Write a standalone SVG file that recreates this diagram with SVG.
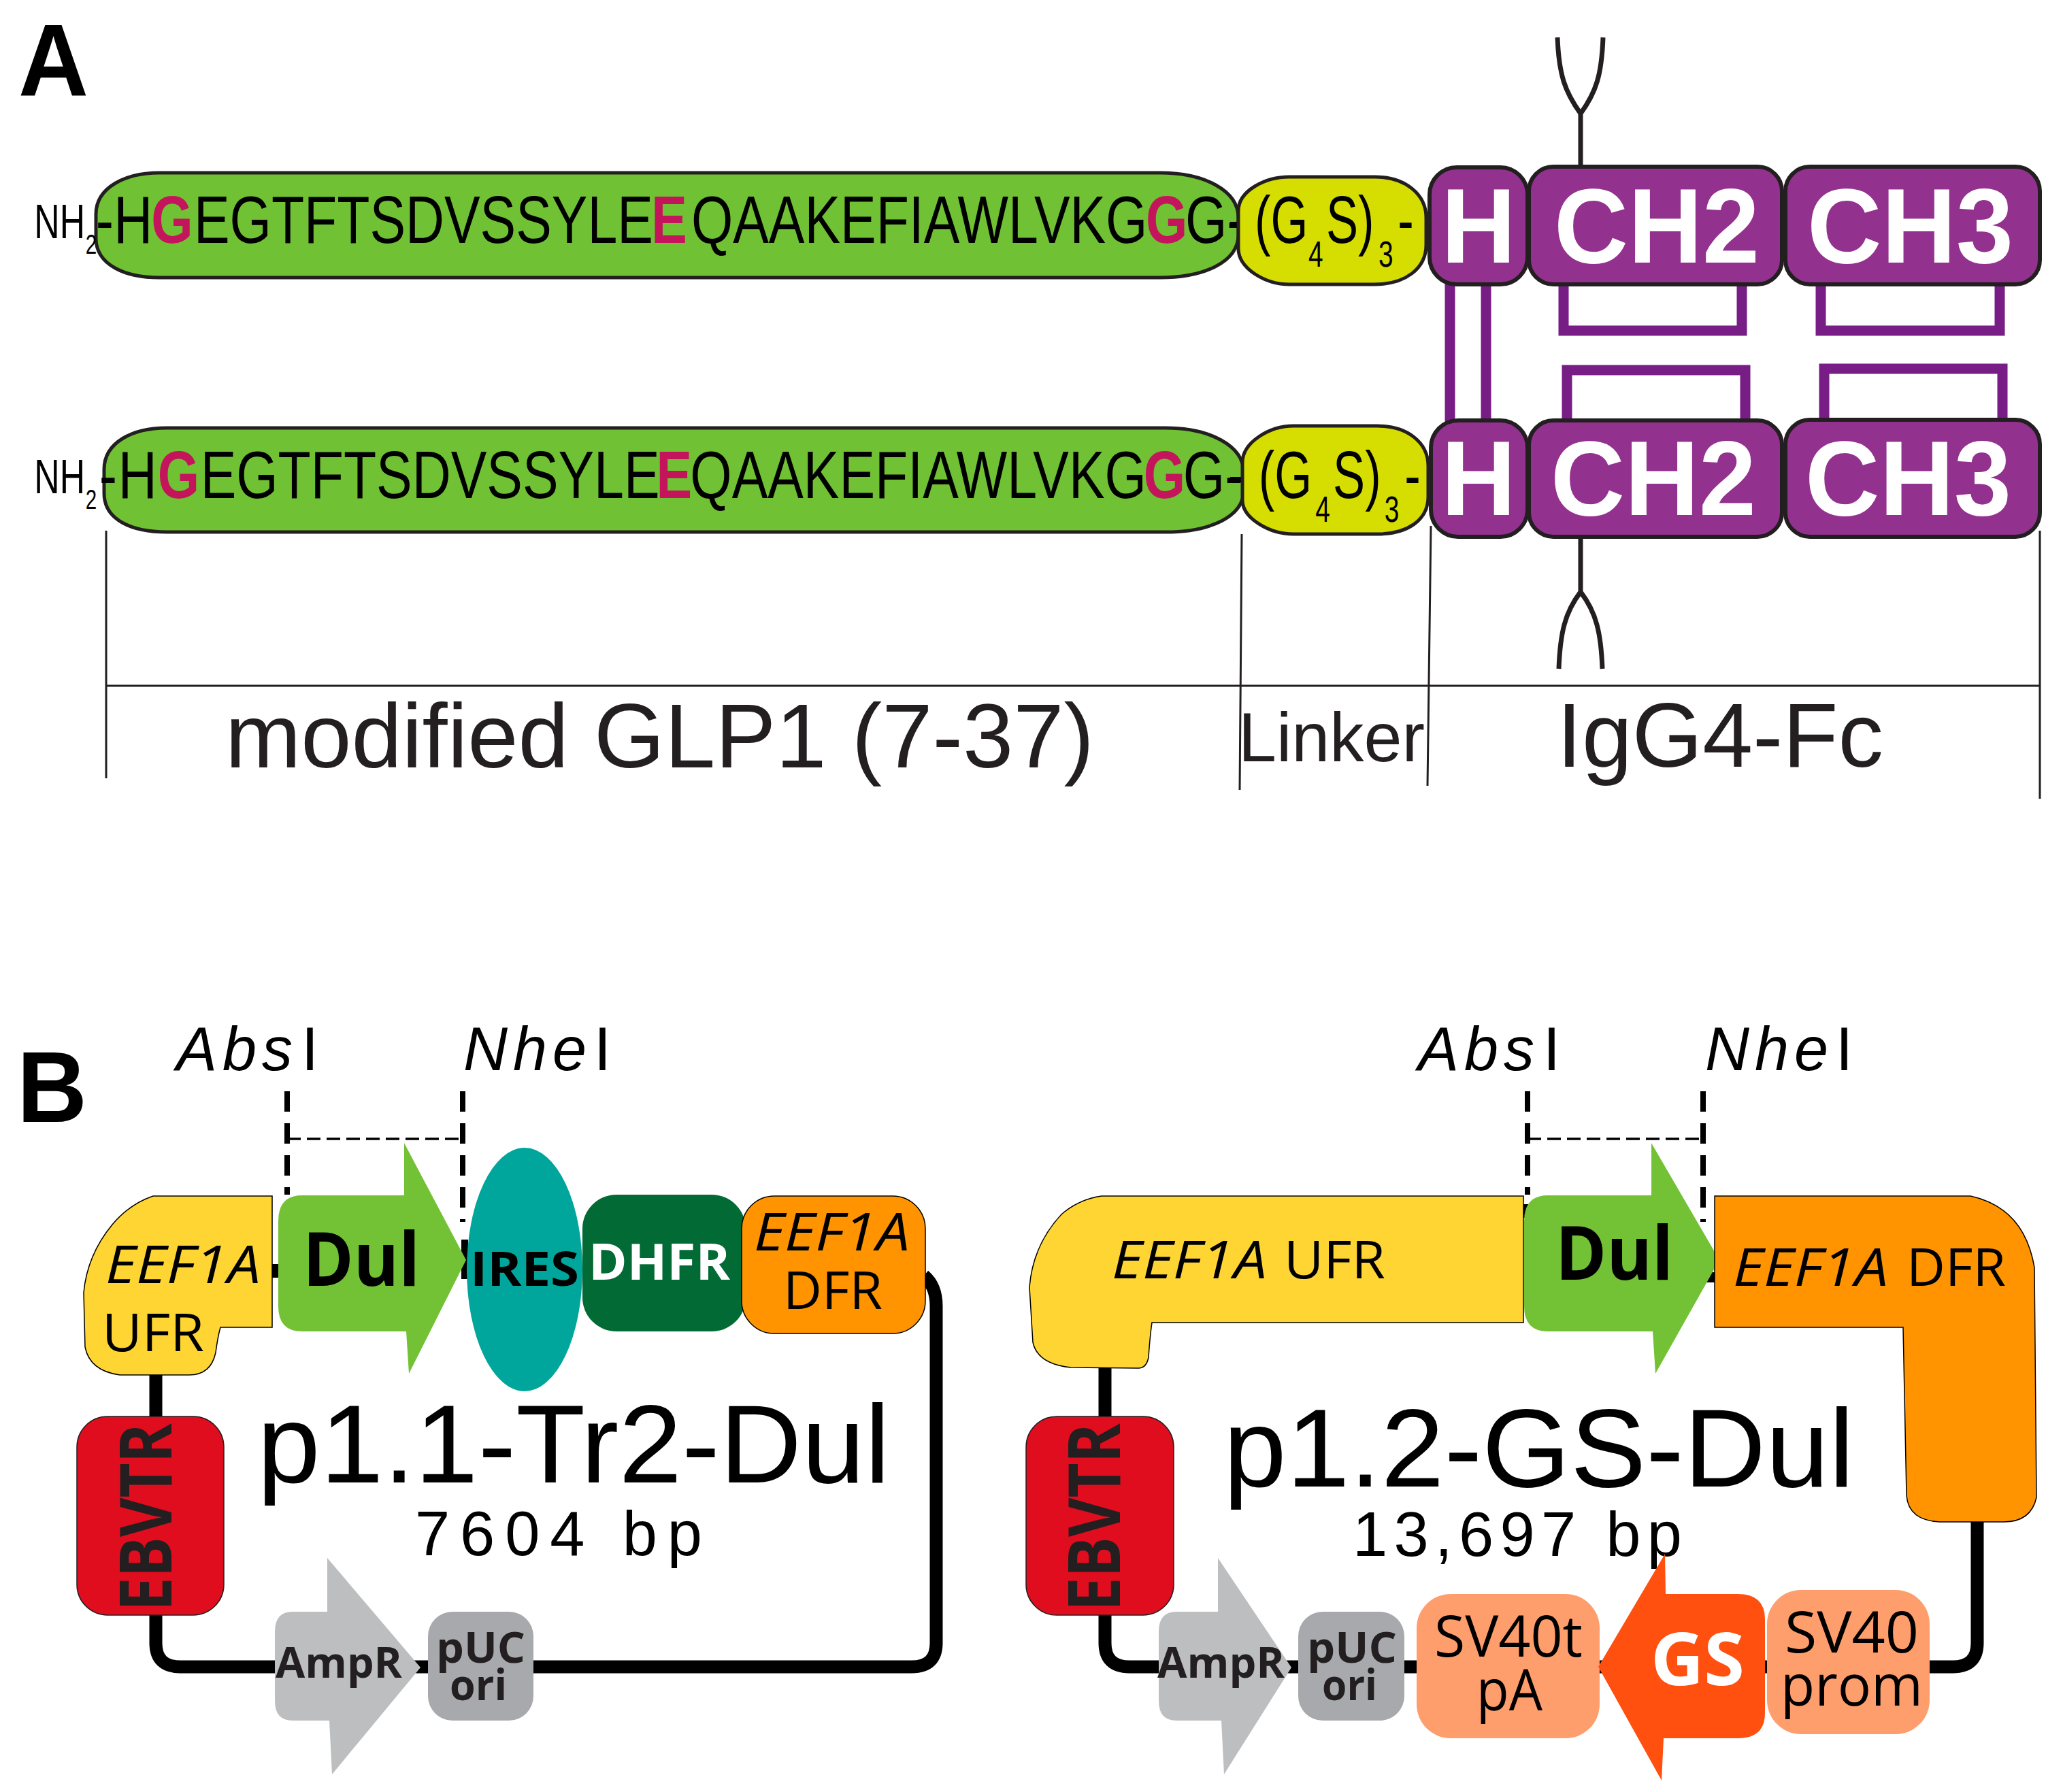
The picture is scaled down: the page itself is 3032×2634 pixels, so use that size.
<svg xmlns="http://www.w3.org/2000/svg" width="3032" height="2634" viewBox="0 0 3032 2634">
<style>
text{font-family:"Liberation Sans",Arial,sans-serif;fill:#000}
.o{font-family:"Open Sans","Noto Sans",sans-serif}
.b{font-weight:700}
.i{font-style:italic}
.seq{font-size:98px}
.pk{fill:#c4145c;font-weight:700}
.nh{font-size:70px}
.nhs{font-size:40px}
.sub{font-size:54px}
.dom{font-size:155px;font-weight:700;fill:#fff}
.lab{font-size:134px;fill:#231f20}
.re{font-size:90px;letter-spacing:8px}
.g{fill:#70c133;stroke:#231f20;stroke-width:5}
.y{fill:#d6dd00;stroke:#231f20;stroke-width:5}
.p{fill:#93328e;stroke:#231f20;stroke-width:6}
.ss{fill:none;stroke:#771d85;stroke-width:15}
.gly{fill:none;stroke:#231f20;stroke-width:7}
.thin{fill:none;stroke:#231f20;stroke-width:3}
.bb{fill:none;stroke:#000;stroke-width:19}
.d1{fill:none;stroke:#000;stroke-width:8;stroke-dasharray:30 17}
.d2{fill:none;stroke:#000;stroke-width:3.5;stroke-dasharray:20 9}
.uf{fill:#ffd534;stroke:#000;stroke-width:1.5}
.df{fill:#ff9400;stroke:#000;stroke-width:1.5}
.dul{fill:#73c235}
.red{fill:#e00d1e;stroke:#231f20;stroke-width:1.5}
.amp{fill:#bcbec0}
.puc{fill:#a7a9ac}
.sv{fill:#ff9e6d}
.gene{font-size:77px}
.sm{font-size:62px;font-weight:700;fill:#231f20}
.svt{font-size:84px}
.big{font-size:164px}
.bp{font-size:92px}
</style>

<g id="connectors">
  <path class="ss" d="M2131 418V620M2184 418V620"/>
  <path class="ss" d="M2298 418V486H2560V418M2676 418V486H2939V418"/>
  <path class="ss" d="M2303 620V544H2565V620M2681 620V542H2943V620"/>
  <path class="gly" d="M2323 245V167C2300 135 2291 110 2289 55M2323 167C2346 135 2354 110 2356 55"/>
  <path class="gly" d="M2323 792V870C2300 900 2293 930 2291 983M2323 870C2346 900 2353 930 2355 983"/>
  <path class="thin" d="M156 1008H2998M156 780V1144M1825 785L1822 1161M2103 773L2098 1155M2998 780V1174"/>
  <path class="d1" d="M422 1604V1756M680 1604V1796M2245 1604V1756M2503 1604V1796"/>
  <path class="d2" d="M422 1674H680M2245 1674H2503"/>
  <path class="bb" d="M229 2019V2415Q229 2450 265 2450H1340Q1376 2450 1376 2415V1920Q1376 1890 1358 1875"/>
  <path class="bb" d="M1624 2010V2415Q1624 2450 1660 2450H2870Q2906 2450 2906 2415V2237"/>
  <path d="M395 1858H420V1878H395ZM678 1822H688V1880H678ZM2232 1770H2250V1790H2232ZM2505 1870H2525V1885H2505Z"/>
</g>

<g id="panel-label-A"><text class="b" x="27" y="140" font-size="150" textLength="103" lengthAdjust="spacingAndGlyphs">A</text></g>
<g id="panel-label-B"><text class="b" x="25" y="1649" font-size="148" textLength="103" lengthAdjust="spacingAndGlyphs">B</text></g>

<g id="glp1-top">
  <path class="g" d="M141 315C141 275 185 254 234 254H1705C1770 254 1820 280 1820 320V345C1820 385 1770 408 1705 408H234C185 408 141 390 141 350Z"/>
  <text class="nh" transform="scale(.74 1)" x="68" y="350">NH<tspan class="nhs" x="170" y="373">2</tspan></text>
  <text class="seq" transform="scale(.805 1)" y="357"><tspan x="175">-H</tspan><tspan class="pk" x="276">G</tspan><tspan x="354">EGTFTSDVSSYLE</tspan><tspan class="pk" x="1189">E</tspan><tspan x="1262">QAAKEFIAWLVKG</tspan><tspan class="pk" x="2092">G</tspan><tspan x="2164">G-</tspan></text>
  <rect x="1808" y="326" width="30" height="8"/>
</g>
<g id="linker-top">
  <path class="y" d="M1820 310C1820 280 1860 260 1895 260H2020C2065 260 2096 285 2096 320V360C2096 395 2065 418 2020 418H1895C1860 418 1820 395 1820 365Z"/>
  <text class="seq" transform="scale(.72 1)" y="357"><tspan x="2561">(G</tspan><tspan class="sub" x="2671" y="392">4</tspan><tspan x="2707" y="357">S)</tspan><tspan class="sub" x="2814" y="392">3</tspan><tspan x="2853" y="357">-</tspan></text>
</g>
<g id="hinge-top"><rect class="p" x="2101" y="246" width="144" height="172" rx="40"/><text class="dom" x="2118" y="386" textLength="110" lengthAdjust="spacingAndGlyphs">H</text></g>
<g id="ch2-top"><rect class="p" x="2247" y="245" width="372" height="173" rx="36"/><text class="dom" x="2284" y="386" textLength="302" lengthAdjust="spacingAndGlyphs">CH2</text></g>
<g id="ch3-top"><rect class="p" x="2624" y="245" width="374" height="173" rx="36"/><text class="dom" x="2656" y="386" textLength="303" lengthAdjust="spacingAndGlyphs">CH3</text></g>

<g id="glp1-bottom">
  <path class="g" d="M153 690C153 650 195 629 245 629H1713C1778 629 1828 655 1828 695V720C1828 760 1778 782 1713 782H245C195 782 153 765 153 725Z"/>
  <text class="nh" transform="scale(.74 1)" x="68" y="725">NH<tspan class="nhs" x="170" y="748">2</tspan></text>
  <text class="seq" transform="scale(.805 1)" y="732"><tspan x="181">-</tspan><tspan x="216">H</tspan><tspan class="pk" x="288">G</tspan><tspan x="366">EGTFTSDVSSYLE</tspan><tspan class="pk" x="1198">E</tspan><tspan x="1260">QAAKEFIAWLVKG</tspan><tspan class="pk" x="2088">G</tspan><tspan x="2160">G-</tspan></text>
  <rect x="1808" y="701" width="36" height="8"/>
</g>
<g id="linker-bottom">
  <path class="y" d="M1826 680C1826 650 1866 626 1901 626H2024C2068 626 2099 650 2099 685V730C2099 765 2068 785 2024 785H1901C1866 785 1826 762 1826 735Z"/>
  <text class="seq" transform="scale(.72 1)" y="732"><tspan x="2569">(G</tspan><tspan class="sub" x="2685" y="767">4</tspan><tspan x="2721" y="732">S)</tspan><tspan class="sub" x="2826" y="767">3</tspan><tspan x="2867" y="732">-</tspan></text>
</g>
<g id="hinge-bottom"><rect class="p" x="2103" y="618" width="142" height="171" rx="40"/><text class="dom" x="2118" y="757" textLength="110" lengthAdjust="spacingAndGlyphs">H</text></g>
<g id="ch2-bottom"><rect class="p" x="2247" y="618" width="372" height="171" rx="36"/><text class="dom" x="2279" y="757" textLength="302" lengthAdjust="spacingAndGlyphs">CH2</text></g>
<g id="ch3-bottom"><rect class="p" x="2624" y="617" width="374" height="172" rx="36"/><text class="dom" x="2653" y="757" textLength="303" lengthAdjust="spacingAndGlyphs">CH3</text></g>

<g id="label-glp1"><text class="lab" x="331" y="1128" textLength="1277" lengthAdjust="spacingAndGlyphs">modified GLP1 (7-37)</text></g>
<g id="label-linker"><text class="lab" style="font-size:102px" x="1820" y="1119" textLength="274" lengthAdjust="spacingAndGlyphs">Linker</text></g>
<g id="label-fc"><text class="lab" x="2288" y="1127" textLength="480" lengthAdjust="spacingAndGlyphs">IgG4-Fc</text></g>

<!-- p1.1 -->
<g id="p11-sites">
  <text class="re" x="259" y="1573"><tspan class="i">Abs</tspan><tspan dx="5">I</tspan></text>
  <text class="re" x="681" y="1573"><tspan class="i">Nhe</tspan><tspan dx="3">I</tspan></text>
</g>
<g id="p11-ufr">
  <path class="uf" d="M225 1758H400V1951H324Q320 1965 317 1988Q310 2021 278 2021H176Q132 2015 125 1980L123 1900Q128 1845 165 1800Q190 1770 225 1758Z"/>
  <text class="o gene"><tspan class="i" x="155" y="1886" textLength="228" lengthAdjust="spacingAndGlyphs">EEF1A</tspan><tspan x="150" y="1986" textLength="150" lengthAdjust="spacingAndGlyphs">UFR</tspan></text>
</g>
<g id="p11-dul">
  <path class="dul" d="M444 1757H594V1680L685 1852L601 2019L597 1957H444Q409 1957 409 1920V1795Q409 1757 444 1757Z"/>
  <text class="o b" font-size="110" x="445" y="1890" textLength="172" lengthAdjust="spacingAndGlyphs">Dul</text>
</g>
<g id="p11-ires">
  <ellipse cx="771" cy="1866" rx="85" ry="179" fill="#00a69c"/>
  <text class="o b" font-size="69" x="691" y="1890" textLength="160" lengthAdjust="spacingAndGlyphs">IRES</text>
</g>
<g id="p11-dhfr">
  <rect x="856" y="1756" width="240" height="201" rx="50" fill="#026a35"/>
  <text class="o b" font-size="74" style="fill:#fff" x="865" y="1881" textLength="208" lengthAdjust="spacingAndGlyphs">DHFR</text>
</g>
<g id="p11-dfr">
  <rect class="df" x="1090" y="1758" width="270" height="202" rx="48"/>
  <text class="o gene"><tspan class="i" x="1108" y="1838" textLength="229" lengthAdjust="spacingAndGlyphs">EEF1A</tspan><tspan x="1151" y="1924" textLength="146" lengthAdjust="spacingAndGlyphs">DFR</tspan></text>
</g>
<g id="p11-ebvtr">
  <rect class="red" x="113" y="2082" width="216" height="292" rx="45"/>
  <text class="o b" font-size="106" style="fill:#231f20" transform="translate(252 2368) rotate(-90)" textLength="276" lengthAdjust="spacingAndGlyphs">EBVTR</text>
</g>
<g id="p11-ampr">
  <path class="amp" d="M430 2369H481V2290L618 2451L488 2608L484 2529H430Q404 2529 404 2500V2398Q404 2369 430 2369Z"/>
  <text class="o sm" x="405" y="2466" textLength="186" lengthAdjust="spacingAndGlyphs">AmpR</text>
</g>
<g id="p11-puc">
  <rect class="puc" x="629" y="2369" width="155" height="160" rx="36"/>
  <text class="o sm"><tspan x="641" y="2444" textLength="131" lengthAdjust="spacingAndGlyphs">pUC</tspan><tspan x="661" y="2499" textLength="84" lengthAdjust="spacingAndGlyphs">ori</tspan></text>
</g>
<g id="p11-title">
  <text class="big"><tspan x="378" y="2179" textLength="930" lengthAdjust="spacingAndGlyphs">p1.1-Tr2-Dul</tspan><tspan class="bp" x="610" y="2286" textLength="422" lengthAdjust="spacing">7604 bp</tspan></text>
</g>

<!-- p1.2 -->
<g id="p12-sites">
  <text class="re" x="2084" y="1573"><tspan class="i">Abs</tspan><tspan dx="5">I</tspan></text>
  <text class="re" x="2506" y="1573"><tspan class="i">Nhe</tspan><tspan dx="3">I</tspan></text>
</g>
<g id="p12-ufr">
  <path class="uf" d="M1619 1758H2239V1944H1693Q1690 1965 1688 1995Q1685 2011 1673 2011L1574 2010Q1525 2005 1518 1973L1513 1892Q1518 1830 1560 1785Q1585 1763 1619 1758Z"/>
  <text class="o i gene" x="1634" y="1879" textLength="228" lengthAdjust="spacingAndGlyphs">EEF1A</text>
  <text class="o gene" x="1887" y="1879" textLength="149" lengthAdjust="spacingAndGlyphs">UFR</text>
</g>
<g id="p12-dul">
  <path class="dul" d="M2275 1757H2427V1680L2527 1852L2433 2019L2429 1957H2275Q2240 1957 2240 1920V1795Q2240 1757 2275 1757Z"/>
  <text class="o b" font-size="110" x="2286" y="1881" textLength="173" lengthAdjust="spacingAndGlyphs">Dul</text>
</g>
<g id="p12-dfr">
  <path class="df" d="M2520 1758H2896Q2975 1775 2990 1863L2993 2201Q2985 2237 2945 2237H2851Q2805 2235 2802 2198L2797 1951H2520Z"/>
  <text class="o i gene" x="2547" y="1890" textLength="228" lengthAdjust="spacingAndGlyphs">EEF1A</text>
  <text class="o gene" x="2802" y="1890" textLength="146" lengthAdjust="spacingAndGlyphs">DFR</text>
</g>
<g id="p12-ebvtr">
  <rect class="red" x="1508" y="2082" width="217" height="292" rx="45"/>
  <text class="o b" font-size="106" style="fill:#231f20" transform="translate(1646 2368) rotate(-90)" textLength="276" lengthAdjust="spacingAndGlyphs">EBVTR</text>
</g>
<g id="p12-ampr">
  <path class="amp" d="M1729 2369H1790V2290L1898 2451L1799 2608L1795 2529H1729Q1703 2529 1703 2500V2398Q1703 2369 1729 2369Z"/>
  <text class="o sm" x="1701" y="2466" textLength="187" lengthAdjust="spacingAndGlyphs">AmpR</text>
</g>
<g id="p12-puc">
  <rect class="puc" x="1908" y="2369" width="156" height="160" rx="36"/>
  <text class="o sm"><tspan x="1921" y="2444" textLength="132" lengthAdjust="spacingAndGlyphs">pUC</tspan><tspan x="1943" y="2499" textLength="81" lengthAdjust="spacingAndGlyphs">ori</tspan></text>
</g>
<g id="p12-title">
  <text class="big"><tspan x="1798" y="2185" textLength="927" lengthAdjust="spacingAndGlyphs">p1.2-GS-Dul</tspan><tspan class="bp" x="1988" y="2287" textLength="484" lengthAdjust="spacing">13,697 bp</tspan></text>
</g>
<g id="p12-sv40t">
  <rect class="sv" x="2082" y="2343" width="269" height="212" rx="50"/>
  <text class="o svt"><tspan x="2108" y="2435" textLength="218" lengthAdjust="spacingAndGlyphs">SV40t</tspan><tspan x="2170" y="2514" textLength="97" lengthAdjust="spacingAndGlyphs">pA</tspan></text>
</g>
<g id="p12-gs">
  <path fill="#ff5010" d="M2349 2450L2447 2284L2448 2343H2554Q2594 2343 2594 2380V2518Q2594 2555 2554 2555H2445L2442 2617Z"/>
  <text class="o b" font-size="108" style="fill:#fff" x="2426" y="2477" textLength="138" lengthAdjust="spacingAndGlyphs">GS</text>
</g>
<g id="p12-sv40p">
  <rect class="sv" x="2597" y="2337" width="239" height="212" rx="50"/>
  <text class="o svt"><tspan x="2623" y="2429" textLength="197" lengthAdjust="spacingAndGlyphs">SV40</tspan><tspan x="2617" y="2507" textLength="209" lengthAdjust="spacingAndGlyphs">prom</tspan></text>
</g>
</svg>
